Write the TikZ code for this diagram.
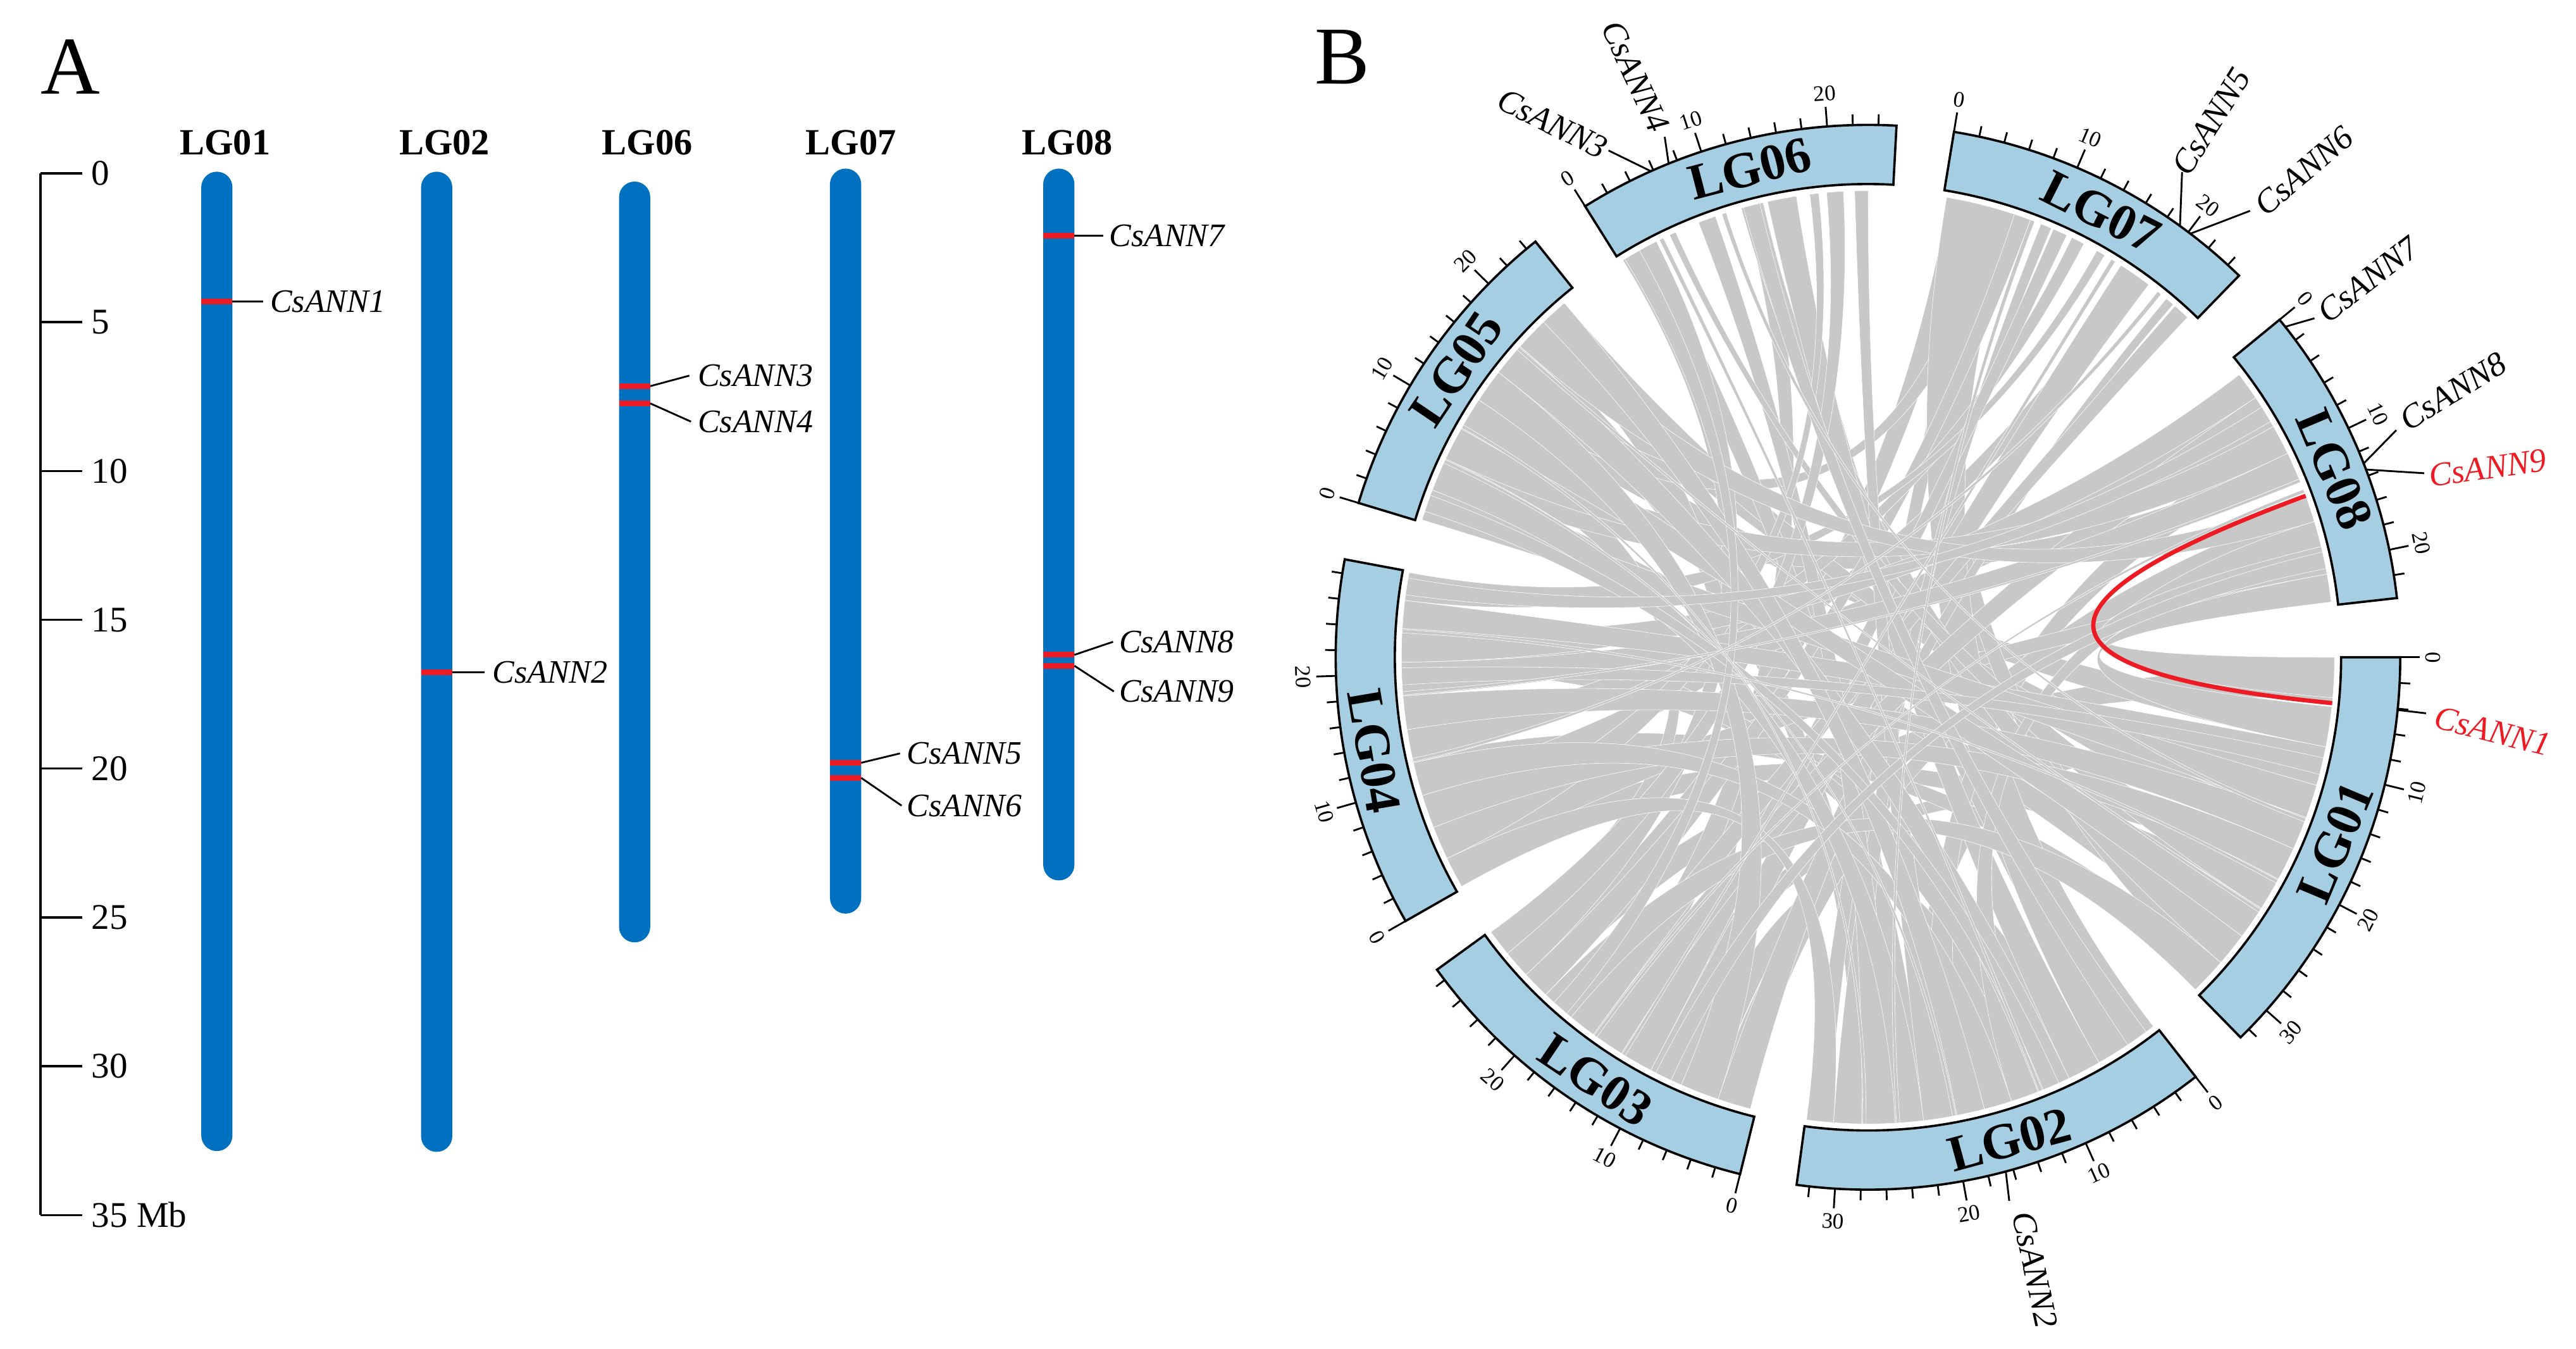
\documentclass[tikz,border=0pt]{standalone}
\usepackage{fontspec}
\setmainfont{Liberation Serif}
\definecolor{chrblue}{RGB}{0,112,192}
\definecolor{boxblue}{RGB}{166,206,227}
\definecolor{linkgrey}{RGB}{200,200,200}
\definecolor{genered}{RGB}{237,28,36}
\def\kk{1.385}
\def\starts{{0,0,-52,-103.9,-150.3,163.15,122.1,80.7,39.35}}
\def\RL{284pt}
\def\RC{94.67pt}
\def\Ri{288pt}
\def\Ro{324pt}
\tikzset{
  axisline/.style={line width=1.3pt, black},
  axlab/.style={anchor=west, inner sep=0pt, font=\fontsize{22}{22}\selectfont},
  lglab/.style={inner sep=0pt, font=\fontsize{22.5}{22.5}\selectfont\bfseries},
  chrbar/.style={fill=chrblue, rounded corners=9.5pt},
  geneband/.style={fill=genered},
  leader/.style={line width=1.1pt, black},
  alab/.style={anchor=west, inner sep=0pt, font=\fontsize{20}{20}\selectfont\itshape},
  panlab/.style={inner sep=0pt, font=\fontsize{50}{50}\selectfont},
  linkfill/.style={fill=linkgrey, draw=white, line width=0.22pt},
  redlink/.style={draw=genered, line width=2.6pt},
  chrbox/.style={fill=boxblue, draw=black, line width=1.4pt},
  tickline/.style={line width=1.1pt, black},
  ticklab/.style={inner sep=0pt, font=\fontsize{13.5}{13.5}\selectfont},
  chrlab/.style={inner sep=0pt, font=\fontsize{31}{31}\selectfont\bfseries},
  blab/.style={inner sep=0pt, font=\fontsize{20.5}{20.5}\selectfont\itshape},
}
\newcommand{\rib}[6]{%
  \pgfmathsetmacro\ribA{\starts[#1]-\kk*(#2)}%
  \pgfmathsetmacro\ribB{\starts[#1]-\kk*(#3)}%
  \pgfmathsetmacro\ribC{\starts[#4]-\kk*(#5)}%
  \pgfmathsetmacro\ribD{\starts[#4]-\kk*(#6)}%
  \fill[linkfill] (\ribA:\RL) arc[start angle=\ribA,end angle=\ribB,radius=\RL]
    .. controls (\ribB:\RC) and (\ribC:\RC) .. (\ribC:\RL)
    arc[start angle=\ribC,end angle=\ribD,radius=\RL]
    .. controls (\ribD:\RC) and (\ribA:\RC) .. (\ribA:\RL) -- cycle;}
\newcommand{\chrom}[3]{%
  \pgfmathsetmacro\cS{\starts[#1]}%
  \pgfmathsetmacro\cE{\cS-\kk*(#2)}%
  \filldraw[chrbox] (\cS:\Ri) arc[start angle=\cS,end angle=\cE,radius=\Ri]
     -- (\cE:\Ro) arc[start angle=\cE,end angle=\cS,radius=\Ro] -- cycle;
  \foreach \p in {0,2,...,34}{%
    \ifdim\p pt<#2pt
      \pgfmathsetmacro\tA{\cS-\kk*\p}%
      \pgfmathtruncatemacro\mj{mod(\p,10)==0}%
      \ifnum\mj=1
        \draw[tickline] (\tA:\Ro) -- (\tA:336pt);
        \pgfmathsetmacro\tR{sin(\tA)>=0 ? \tA-90 : \tA+90}%
        \node[ticklab, rotate=\tR] (t#1-\p) at (\tA:344pt) {\p};
      \else
        \draw[tickline] (\tA:\Ro) -- (\tA:330.5pt);
      \fi
    \fi
  }%
  \pgfmathsetmacro\cM{(\cS+\cE)/2}%
  \pgfmathsetmacro\cMM{sin(\cM)>=0 ? \cM-0.9 : \cM+1.2}%
  \pgfmathsetmacro\cR{sin(\cM)>=0 ? \cM-90 : \cM+90}%
  \node[chrlab, rotate=\cR] (n#1) at (\cMM:306pt) {#3};
}
\begin{document}
\begin{tikzpicture}[x=1pt,y=1pt]
\fill[white] (0,0) rectangle (1568,-820.6);
\useasboundingbox (0,0) rectangle (1568,-820.6);

% ---------------- Panel A ----------------
\node[panlab] (pA) at (43,-40.5) {A};
\draw[axisline] (24.7,-105.5) -- (24.7,-739.4);
\foreach \v [count=\i from 0] in {0,5,10,15,20,25,30} {
  \pgfmathsetmacro\yy{-105.5-90.56*\i}
  \draw[axisline] (24.7,\yy) -- (50,\yy);
  \node[axlab] (ax\i) at (55.5,\yy) {\v};
}
\draw[axisline] (24.7,-739.4) -- (50,-739.4);
\node[axlab] (ax7) at (55.5,-739.4) {35 Mb};

\foreach \x/\n in {137/LG01, 270.5/LG02, 394/LG06, 518/LG07, 649.6/LG08}
  \node[lglab] (h\n) at (\x,-86.9) {\n};

\fill[chrbar] (122.5,-104.5) rectangle (141.5,-700.5);
\fill[chrbar] (256.3,-104.5) rectangle (275.3,-701);
\fill[chrbar] (376.8,-110.5) rectangle (395.8,-573.5);
\fill[chrbar] (505.2,-102.6) rectangle (524.2,-556);
\fill[chrbar] (635,-102.6) rectangle (654,-535.8);

\fill[geneband] (122.5,-181.9) rectangle (141.5,-185.3);
\fill[geneband] (256.3,-407.3) rectangle (275.3,-410.7);
\fill[geneband] (376.8,-233.3) rectangle (395.8,-236.7);
\fill[geneband] (376.8,-243.8) rectangle (395.8,-247.2);
\fill[geneband] (505.2,-462.5) rectangle (524.2,-465.9);
\fill[geneband] (505.2,-471.7) rectangle (524.2,-475.1);
\fill[geneband] (635,-141.7) rectangle (654,-145.1);
\fill[geneband] (635,-396.8) rectangle (654,-400.2);
\fill[geneband] (635,-403.5) rectangle (654,-406.9);

\node[alab] (a1) at (164.3,-183.6) {CsANN1};
\coordinate (a1g) at (141.5,-183.6);
\draw[leader] (a1g) -- ([xshift=-4pt]a1.west);
\node[alab] (a2) at (299.6,-409) {CsANN2};
\coordinate (a2g) at (275.3,-409);
\draw[leader] (a2g) -- ([xshift=-4.5pt]a2.west);
\node[alab] (a3) at (424.6,-228.6) {CsANN3};
\coordinate (a3g) at (395.8,-235);
\draw[leader] (a3g) -- ([xshift=-5pt]a3.west);
\node[alab] (a4) at (424.6,-256.6) {CsANN4};
\coordinate (a4g) at (395.8,-245.5);
\draw[leader] (a4g) -- ([xshift=-4pt]a4.west);
\node[alab] (a5) at (551.8,-458.5) {CsANN5};
\coordinate (a5g) at (524.2,-464.2);
\draw[leader] (a5g) -- ([xshift=-4pt]a5.west);
\node[alab] (a6) at (551.8,-490.3) {CsANN6};
\coordinate (a6g) at (524.2,-473.4);
\draw[leader] (a6g) -- ([xshift=-3pt]a6.west);
\node[alab] (a7) at (675,-143.4) {CsANN7};
\coordinate (a7g) at (654,-143.4);
\draw[leader] (a7g) -- ([xshift=-3.5pt]a7.west);
\node[alab] (a8) at (681,-390.6) {CsANN8};
\coordinate (a8g) at (654,-398.5);
\draw[leader] (a8g) -- ([xshift=-3.5pt]a8.west);
\node[alab] (a9) at (681,-420.8) {CsANN9};
\coordinate (a9g) at (654,-405.2);
\draw[leader] (a9g) -- ([xshift=-3pt]a9.west);

% ---------------- Panel B ----------------
\node[panlab] (pB) at (817,-34.7) {B};
\begin{scope}[shift={(1137,-400)}]
  % synteny ribbons, second layer
  \rib{1}{1}{4}{3}{22}{25}
  \rib{1}{5}{8}{5}{12}{15}
  \rib{1}{9}{12}{2}{20}{23}
  \rib{1}{13}{16}{5}{19}{22}
  \rib{1}{18}{21}{3}{10}{13}
  \rib{1}{22}{25}{4}{1}{4}
  \rib{1}{26}{29}{5}{2}{5}
  \rib{1}{30}{32.5}{4}{10}{12.5}
  \rib{2}{2}{5}{6}{14.5}{16.5}
  \rib{2}{7}{10}{4}{20}{23}
  \rib{2}{13}{16}{3}{4}{7}
  \rib{2}{18}{21}{8}{8}{11}
  \rib{2}{26}{29}{5}{16}{19}
  \rib{2}{31}{32.8}{7}{3}{5}
  \rib{3}{1}{4}{8}{15}{17.5}
  \rib{3}{9}{12}{5}{20}{23}
  \rib{3}{14}{17}{6}{12}{13.8}
  \rib{3}{22}{25}{7}{0.5}{3}
  \rib{3}{25.5}{28.5}{5}{7}{10}
  \rib{4}{2}{5}{8}{21}{23}
  \rib{4}{7}{10}{7}{18}{20}
  \rib{4}{13}{16}{8}{3}{6}
  \rib{4}{22}{25}{2}{10}{13}
  \rib{5}{4}{7}{8}{10}{12.5}
  \rib{5}{13}{16}{7}{4}{6}
  \rib{5}{21}{23.5}{1}{15}{18}
  \rib{6}{1}{3}{2}{22}{25}
  \rib{7}{1}{4}{1}{28}{31}
  % synteny ribbons, first layer
  \rib{7}{0.3}{6.5}{2}{0.2}{6}
  \rib{7}{6.5}{8}{3}{21.5}{24}
  \rib{7}{12}{13.2}{4}{12}{15}
  \rib{7}{17}{20}{3}{7}{10}
  \rib{7}{9}{10}{2}{28}{30.5}
  \rib{7}{14.5}{15.3}{4}{26.5}{29}
  \rib{7}{22}{22.8}{3}{0.5}{3.5}
  \rib{7}{10.2}{11.5}{3}{10}{13}
  \rib{7}{23}{24.5}{3}{16}{18.5}
  \rib{6}{0.3}{3.7}{3}{24}{26.5}
  \rib{6}{7.8}{9.4}{2}{25}{28}
  \rib{6}{11.8}{13.8}{1}{26.5}{29.5}
  \rib{6}{14.2}{16.8}{2}{6}{9}
  \rib{6}{22}{23.2}{2}{19.5}{22.5}
  \rib{6}{5}{5.6}{1}{20.5}{23.5}
  \rib{6}{18}{18.8}{4}{3}{6}
  \rib{6}{19.5}{21}{3}{26.5}{28.9}
  \rib{8}{1.5}{4}{4}{21}{24}
  \rib{8}{4}{7}{3}{13}{16}
  \rib{8}{7}{9.7}{5}{6}{9}
  \rib{8}{9.7}{12.2}{4}{18}{21}
  \rib{8}{14}{16.2}{5}{18}{21}
  \rib{8}{16.2}{18.5}{2}{12}{14.5}
  \rib{8}{18.5}{21}{1}{0}{3.6}
  \rib{8}{21}{23.5}{1}{4.4}{8}
  \rib{1}{8}{11.5}{4}{24}{26.5}
  \rib{1}{11.5}{14.5}{5}{0.2}{3}
  \rib{1}{14.5}{17.5}{4}{15}{18}
  \rib{1}{17.5}{20.5}{4}{6}{9}
  \rib{1}{23.5}{26.5}{5}{9}{12}
  \rib{1}{29.5}{32.8}{3}{18.5}{21.5}
  \rib{2}{9}{12}{5}{15}{18}
  \rib{2}{14.5}{17}{4}{9}{12}
  \rib{2}{17}{19.5}{5}{21}{23.5}
  \rib{2}{22.5}{25}{5}{3}{6}
  \rib{2}{30.5}{32.9}{4}{0.2}{3}
  \rib{3}{3.5}{7}{5}{12}{15}
  % overlapping bundles
  \rib{4}{19}{20.5}{1}{9}{10.5}
  \rib{5}{1}{2.5}{2}{10}{11.5}
  \rib{3}{19}{20.5}{6}{0.5}{2}
  \rib{4}{27}{28.5}{8}{5}{6.5}
  \rib{2}{1}{3}{6}{12}{13.5}
  \rib{3}{8}{9.5}{8}{19}{20.5}
  % thin links
  \rib{5}{17.6}{17.9}{1}{23.6}{23.9}
  \rib{4}{18.1}{18.4}{8}{12.2}{12.5}
  \rib{3}{12.6}{12.9}{7}{16}{16.4}
  \rib{2}{24.6}{24.9}{7}{8}{8.4}
  \rib{6}{10}{10.4}{1}{14.6}{14.9}
  \rib{5}{5.6}{5.9}{2}{19.6}{19.9}
  \rib{4}{23.6}{23.9}{1}{20.6}{20.9}
  \rib{3}{15.6}{15.9}{8}{13.2}{13.5}
  \rib{2}{11.6}{11.9}{6}{4}{4.4}
  \rib{5}{9.1}{9.4}{2}{27.6}{27.9}
  \rib{4}{12.1}{12.4}{7}{21}{21.4}
  % highlighted pair CsANN9 - CsANN1
  \coordinate (r9) at (20.24:\RL);
  \coordinate (r1) at (-5.64:\RL);
  \draw[redlink] (r9) .. controls (20.24:\RC) and (-5.64:\RC) .. (r1);
  % ideogram
  \chrom{1}{32.9}{LG01}
  \chrom{2}{33.0}{LG02}
  \chrom{3}{29.0}{LG03}
  \chrom{4}{29.1}{LG04}
  \chrom{5}{24.9}{LG05}
  \chrom{6}{25.4}{LG06}
  \chrom{7}{25.2}{LG07}
  \chrom{8}{23.8}{LG08}
  % gene positions
  \coordinate (g1) at (-5.68:\Ro);
  \coordinate (g2) at (-74.99:\Ro);
  \coordinate (g3) at (114.07:\Ro);
  \coordinate (g4) at (111.99:\Ro);
  \coordinate (g5) at (54.11:\Ro);
  \coordinate (g6) at (52.72:\Ro);
  \coordinate (g7) at (38.38:\Ro);
  \coordinate (g8) at (21.35:\Ro);
  \coordinate (g9) at (20.65:\Ro);
\end{scope}
\coordinate (e1) at (1476.7,-434.1);
\coordinate (e2) at (1223,-730.8);
\coordinate (e3) at (979.1,-91.6);
\coordinate (e4) at (1013.3,-83.3);
\coordinate (e5) at (1328.2,-104.7);
\coordinate (e6) at (1369.6,-128.3);
\coordinate (e7) at (1408.8,-193.7);
\coordinate (e8) at (1458.6,-261.8);
\coordinate (e9) at (1475.6,-288);
\foreach \k in {1,...,9} \draw[leader] (g\k) -- (e\k);
\node[blab, text=genered, rotate=-14] (b1) at (1517.1,-445) {CsANN1};
\node[blab, rotate=-78] (b2) at (1238.7,-772.7) {CsANN2};
\node[blab, rotate=-26.6] (b3) at (945,-75.3) {CsANN3};
\node[blab, rotate=-65] (b4) at (995.5,-46.5) {CsANN4};
\node[blab, rotate=58] (b5) at (1346,-74) {CsANN5};
\node[blab, rotate=40.4] (b6) at (1402.3,-104) {CsANN6};
\node[blab, rotate=37.4] (b7) at (1441.5,-170.2) {CsANN7};
\node[blab, rotate=31.7] (b8) at (1493.2,-238.2) {CsANN8};
\node[blab, text=genered, rotate=7.7] (b9) at (1514.1,-284.8) {CsANN9};
\end{tikzpicture}
\end{document}
